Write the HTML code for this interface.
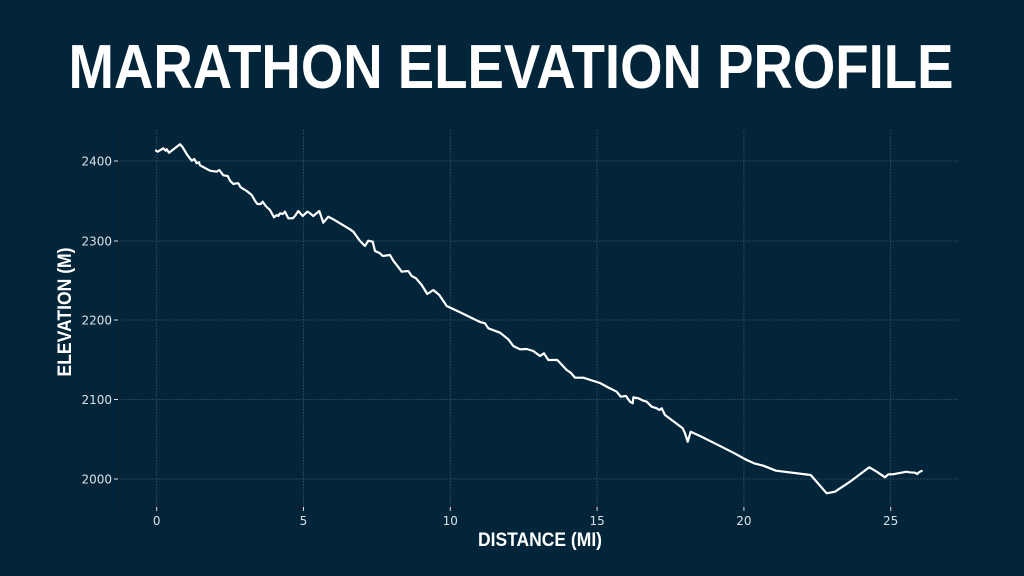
<!DOCTYPE html>
<html><head><meta charset="utf-8"><style>
html,body{margin:0;padding:0;background:#03253a;}
svg{display:block;}
</style></head><body>
<svg width="1024" height="576" viewBox="0 0 1024 576" xmlns="http://www.w3.org/2000/svg">
<rect width="1024" height="576" fill="#03253a"/>
<text x="511" y="88" text-anchor="middle" font-family="Liberation Sans, sans-serif" font-weight="bold" font-size="62" fill="#ffffff" textLength="885" lengthAdjust="spacingAndGlyphs">MARATHON ELEVATION PROFILE</text>
<g stroke="#4a6a80" stroke-width="0.8" stroke-dasharray="1.5,1.5" fill="none" opacity="0.8">
<line x1="119" y1="161" x2="958" y2="161"/>
<line x1="119" y1="241" x2="958" y2="241"/>
<line x1="119" y1="320" x2="958" y2="320"/>
<line x1="119" y1="399.5" x2="958" y2="399.5"/>
<line x1="119" y1="479" x2="958" y2="479"/>
<line x1="156.7" y1="130" x2="156.7" y2="508"/>
<line x1="303.5" y1="130" x2="303.5" y2="508"/>
<line x1="450.3" y1="130" x2="450.3" y2="508"/>
<line x1="597.1" y1="130" x2="597.1" y2="508"/>
<line x1="743.9" y1="130" x2="743.9" y2="508"/>
<line x1="890.7" y1="130" x2="890.7" y2="508"/>
</g>
<g stroke="#0b1d2a" stroke-width="1.2">
<line x1="119" y1="130" x2="119" y2="509"/>
<line x1="119" y1="509" x2="958" y2="509"/>
</g>
<g stroke="#d8e0e6" stroke-width="1">
<line x1="114" y1="161" x2="118" y2="161"/>
<line x1="114" y1="241" x2="118" y2="241"/>
<line x1="114" y1="320" x2="118" y2="320"/>
<line x1="114" y1="399.5" x2="118" y2="399.5"/>
<line x1="114" y1="479" x2="118" y2="479"/>
<line x1="156.7" y1="507" x2="156.7" y2="511"/>
<line x1="303.5" y1="507" x2="303.5" y2="511"/>
<line x1="450.3" y1="507" x2="450.3" y2="511"/>
<line x1="597.1" y1="507" x2="597.1" y2="511"/>
<line x1="743.9" y1="507" x2="743.9" y2="511"/>
<line x1="890.7" y1="507" x2="890.7" y2="511"/>
</g>
<g font-family="DejaVu Sans, sans-serif" font-size="12" fill="#d8e0e6">
<g text-anchor="end">
<text x="112" y="165.5">2400</text>
<text x="112" y="245.5">2300</text>
<text x="112" y="324.5">2200</text>
<text x="112" y="404">2100</text>
<text x="112" y="483.5">2000</text>
</g>
<g text-anchor="middle">
<text x="156.7" y="525">0</text>
<text x="303.5" y="525">5</text>
<text x="450.3" y="525">10</text>
<text x="597.1" y="525">15</text>
<text x="743.9" y="525">20</text>
<text x="890.7" y="525">25</text>
</g>
</g>
<text x="540" y="546" text-anchor="middle" font-family="Liberation Sans, sans-serif" font-weight="bold" font-size="19" fill="#ffffff" textLength="124" lengthAdjust="spacingAndGlyphs">DISTANCE (MI)</text>
<text transform="translate(71,312) rotate(-90)" text-anchor="middle" font-family="Liberation Sans, sans-serif" font-weight="bold" font-size="19" fill="#ffffff" textLength="129" lengthAdjust="spacingAndGlyphs">ELEVATION (M)</text>
<polyline fill="none" stroke="#ffffff" stroke-width="2.2" stroke-linejoin="round" stroke-linecap="round" points="
156,150.7 157.7,151.7 163.3,148.3 165.7,150.7 166.7,149.3 169,152.7 180,144.3 182.3,146.7 187.3,155 191.7,160.7 194.3,159 196.7,163.3 199,162.3 200,165.3 210,170.7 216.7,171.7 219.3,170 223.3,175.3 227.7,176 230,180.7 233.3,184 236.7,183.3 238.3,183.3 240.7,187.3 246.7,191 251.7,195 255,200.7 257.3,204 260.7,204 262.7,201.7 265.7,206 270,210 274,217.3 276.7,215 278.3,216 280,213.3 282.7,214 285,211.7 288.3,218.3 292.7,218.3 295,216 298.3,211 302.7,216 307.3,211.7 309.3,212.7 313.3,216 319.3,211 323.3,222.7 328.3,216.7 333.3,219.3 350,229.3 353.3,231.7 360,241 365,246 368.3,240.7 372.7,241.7 375,251 380,253.3 382.7,256 390,255 393.3,260.7 400,269.3 401.7,271.7 408.3,271 411.7,276 416,278.3 421.7,285 427.3,294 433.3,290 439.3,295 446.7,306 460,312.3 480,322 485,323.3 488.3,328.3 500,332.7 508.3,339.3 513.3,346 520,349.3 526.7,349 530,350 533.3,351 540,356 544,353.3 548.3,360 557.3,360 566.7,370 570.7,372.7 575,377.7 583.3,377.7 600,383 608.3,387.5 616.7,391.7 620.7,396.7 626,396 630,401.7 632.7,403.3 633.3,397.3 638.3,398.3 643.3,400.7 646.7,401.7 651.7,406.7 656.7,408.3 659.3,410 661.7,408.3 665,415 682.7,428.3 685,433.3 687.7,441.7 690.7,431.7 700,436 716.7,444.3 733.3,452.7 746.7,460 754,463.3 763.3,465.7 776,470.7 810.7,475 826.7,493.3 835,491.7 850,481.7 863.3,471.7 869.3,467.3 876.7,471.7 885,477.3 888.3,474.3 892.7,474.3 906.7,471.7 909.3,472.3 915,472.7 917.3,474 919.3,472 921.7,471"/>
</svg>
</body></html>
